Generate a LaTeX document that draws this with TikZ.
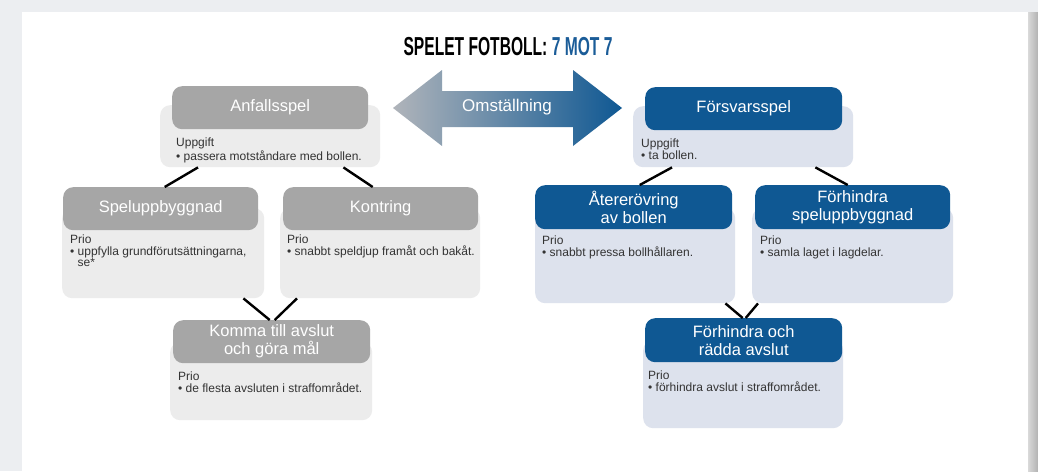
\documentclass[tikz,border=0pt]{standalone}
\usepackage{fontspec}
\setmainfont{Liberation Sans}
\usetikzlibrary{positioning}
\definecolor{gamegray}{HTML}{A6A6A6}
\definecolor{palegray}{HTML}{ECECEC}
\definecolor{gameblue}{HTML}{0F5893}
\definecolor{paleblue}{HTML}{DDE2ED}
\definecolor{titleblue}{HTML}{1A5C98}
\definecolor{arrowgray}{HTML}{B0B4BA}
\definecolor{pagegray}{HTML}{ECEEF1}

\begin{document}
\begin{tikzpicture}[
    x=1pt, y=-1pt,
    head/.style={
		rectangle,
		rounded corners=10pt,
		minimum height=43pt,
		inner sep=0pt,
		anchor=north west,
		align=center,
		text=white,
		font=\fontsize{16.5}{18}\selectfont
	},
	grayhead/.style={head, fill=gamegray},
	bluehead/.style={head, fill=gameblue},
	body/.style={
		rectangle,
		rounded corners=10pt,
		inner sep=0pt,
		anchor=north west
	},
	graybody/.style={body, fill=palegray},
	bluebody/.style={body, fill=paleblue},
	txt/.style={
		anchor=north west,
		inner sep=0pt,
		align=left,
		text=black!80,
		font=\fontsize{12}{11.5}\selectfont
	},
	link/.style={
		draw=black,
		line width=2.4pt
	}
  ]
  \useasboundingbox (0,0) rectangle (1038,471);
  % page and card
  \fill[pagegray] (0,0) rectangle (1038,471);
  \fill[white] (22,12) rectangle (1028,471);
  \shade[left color=black!15, right color=black!30] (1028,12) rectangle (1038,471);

  \node (title) at (508,47)
  {\scalebox{0.6}[1]{\bfseries\fontsize{26}{26}\selectfont SPELET FOTBOLL: \textcolor{titleblue}{7 MOT 7}}};

  % the switch arrow
  \shade[left color=arrowgray, right color=gameblue]
    (393,108) -- (442,70) -- (442,91) -- (573,91) -- (573,70) -- (622,108)
    -- (573,146) -- (573,127) -- (442,127) -- (442,146) -- cycle;
  \node [text=white, font=\fontsize{17}{19}\selectfont] (omst) at (507,107) {Omställning};

  % We start by placing the blocks
  \node [graybody, minimum width=220pt, minimum height=62pt] (anfbody) at (160,105) {};
  \node [grayhead, minimum width=196pt] (anfhead) at (172,86) {Anfallsspel};
  \node [txt] (anftxt) at (176,138) {Uppgift\\\textbullet\ passera motståndare med bollen.};

  \node [graybody, minimum width=202pt, minimum height=90pt] (spelbody) at (62,208) {};
  \node [grayhead, minimum width=195pt] (spelhead) at (63,187) {Speluppbyggnad};
  \node [txt] (speltxt) at (70,235) {Prio\\\textbullet\ uppfylla grundförutsättningarna,\\\phantom{\textbullet\ }se*};

  \node [graybody, minimum width=200pt, minimum height=90pt] (kontbody) at (280,208) {};
  \node [grayhead, minimum width=195pt] (konthead) at (283,187) {Kontring};
  \node [txt] (konttxt) at (287,235) {Prio\\\textbullet\ snabbt speldjup framåt och bakåt.};

  \node [graybody, minimum width=202pt, minimum height=78pt] (kommabody) at (170,342) {};
  \node [grayhead, minimum width=197pt] (kommahead) at (173,320) {Komma till avslut\\och göra mål};
  \node [txt] (kommatxt) at (178,372) {Prio\\\textbullet\ de flesta avsluten i straffområdet.};

  \node [bluebody, minimum width=220pt, minimum height=61pt] (forsbody) at (633,106) {};
  \node [bluehead, minimum width=197pt] (forshead) at (645,87) {Försvarsspel};
  \node [txt] (forstxt) at (641,139) {Uppgift\\\textbullet\ ta bollen.};

  \node [bluebody, minimum width=200pt, minimum height=95pt] (aterbody) at (535,208) {};
  \node [bluehead, minimum width=197pt, minimum height=44pt] (aterhead) at (535,185) {Återerövring\\av bollen};
  \node [txt] (atertxt) at (542,236) {Prio\\\textbullet\ snabbt pressa bollhållaren.};

  \node [bluebody, minimum width=201pt, minimum height=95pt] (hindbody) at (752,208) {};
  \node [bluehead, minimum width=195pt, minimum height=44pt] (hindhead) at (755,185) {Förhindra\\speluppbyggnad};
  \node [txt] (hindtxt) at (760,236) {Prio\\\textbullet\ samla laget i lagdelar.};

  \node [bluebody, minimum width=200pt, minimum height=88pt] (raddbody) at (643,340) {};
  \node [bluehead, minimum width=197pt, minimum height=44pt] (raddhead) at (645,318) {Förhindra och\\rädda avslut};
  \node [txt] (raddtxt) at (648,371) {Prio\\\textbullet\ förhindra avslut i straffområdet.};

  \draw [link] ([xshift=38pt]anfbody.south west) -- ([xshift=4pt]spelhead.north);
  \draw [link] ([xshift=-37pt]anfbody.south east) -- ([xshift=-8pt]konthead.north);
  \draw [link] ([xshift=-21pt]spelbody.south east) -- ([xshift=-2pt]kommahead.north);
  \draw [link] ([xshift=17pt]kontbody.south west) -- ([xshift=3pt]kommahead.north);
  \draw [link] ([xshift=39pt]forsbody.south west) -- ([xshift=6pt]aterhead.north);
  \draw [link] ([xshift=-38pt]forsbody.south east) -- ([xshift=-5pt]hindhead.north);
  \draw [link] ([xshift=-10pt]aterbody.south east) -- ([xshift=-1pt]raddhead.north);
  \draw [link] ([xshift=6pt]hindbody.south west) -- ([xshift=2pt]raddhead.north);
\end{tikzpicture}
\end{document}
